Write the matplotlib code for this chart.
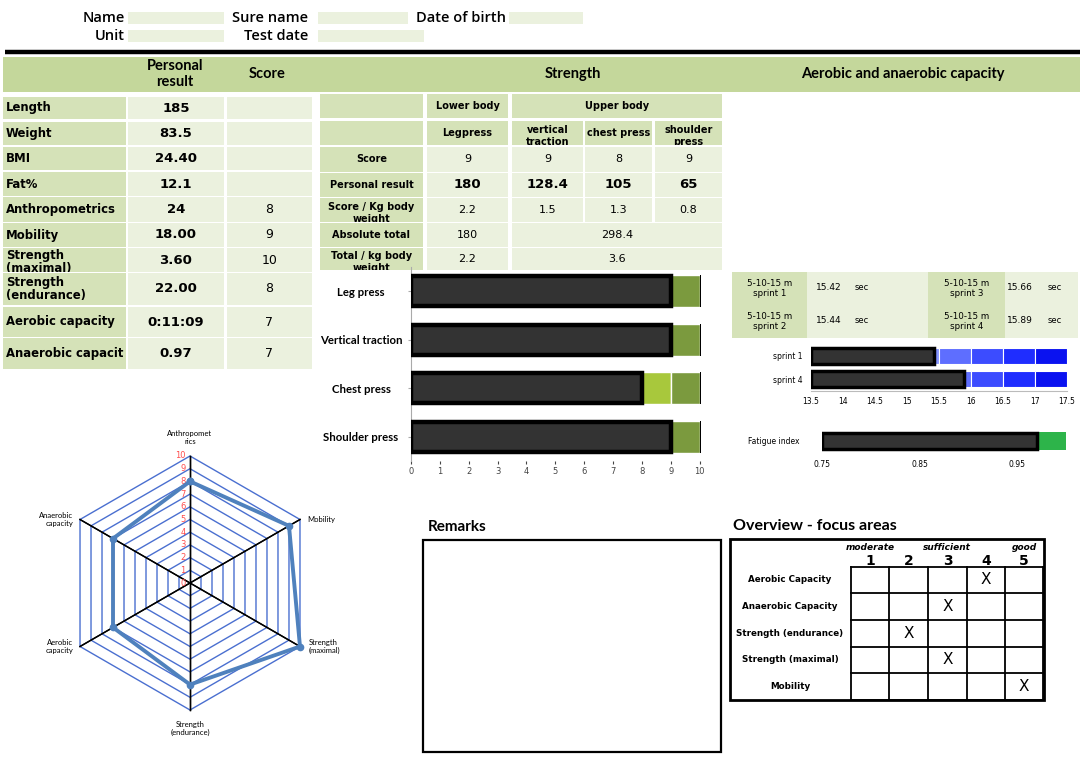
import numpy as np
import matplotlib.pyplot as plt
from matplotlib.patches import Rectangle, Polygon

W, H = 1084, 759

# ---- data ----
profile_labels = ["Length", "Weight", "BMI", "Fat%", "Anthropometrics", "Mobility",
                  "Strength\n(maximal)", "Strength\n(endurance)", "Aerobic capacity",
                  "Anaerobic capacit"]
profile_results = ["185", "83.5", "24.40", "12.1", "24", "18.00", "3.60", "22.00",
                   "0:11:09", "0.97"]
profile_scores = ["", "", "", "", "8", "9", "10", "8", "7", "7"]

strength_groups = ["Lower body", "Upper body"]
strength_exercises = ["Legpress", "vertical\ntraction", "chest press", "shoulder\npress"]
strength_row_labels = ["Score", "Personal result", "Score / Kg body\nweight",
                       "Absolute total", "Total / kg body\nweight"]
strength_scores = [9, 9, 8, 9]
strength_results = ["180", "128.4", "105", "65"]
score_per_kg = ["2.2", "1.5", "1.3", "0.8"]
absolute_total = ["180", "298.4"]
total_per_kg = ["2.2", "3.6"]
bar_labels = ["Leg press", "Vertical traction", "Chest press", "Shoulder press"]
max_score = 10

sprint_names = ["5-10-15 m\nsprint 1", "5-10-15 m\nsprint 2",
                "5-10-15 m\nsprint 3", "5-10-15 m\nsprint 4"]
sprint_times = [15.42, 15.44, 15.66, 15.89]
sprint_chart_labels = ["sprint 1", "sprint 4"]
sprint_chart_times = [15.42, 15.89]
sprint_steps = [15.5, 16.0, 16.5, 17.0, 17.5]
fatigue_index = 0.97
fatigue_max = 1.0

radar_labels = ["Anthropomet\nrics", "Mobility", "Strength\n(maximal)",
                "Strength\n(endurance)", "Aerobic\ncapacity", "Anaerobic\ncapacity"]
radar_scores = [8, 9, 10, 8, 7, 7]

focus_areas = ["Aerobic Capacity", "Anaerobic Capacity", "Strength (endurance)",
               "Strength (maximal)", "Mobility"]
focus_levels = [4, 3, 2, 3, 5]
level_words = ["moderate", "sufficient", "good"]

# ---- colours ----
BAND = "#c4d79b"
LABEL = "#d5e2b8"
VALUE = "#ebf1de"
PIX = "DejaVu Sans"
CAL = "Lato"

fig = plt.figure(figsize=(W / 100, H / 100), dpi=100)
ax = fig.add_axes([0, 0, 1, 1])
ax.set_xlim(0, W)
ax.set_ylim(H, 0)
ax.axis("off")


def px_axes(x0, y0, x1, y1):
    a = fig.add_axes([x0 / W, 1 - y1 / H, (x1 - x0) / W, (y1 - y0) / H])
    a.patch.set_alpha(0)
    return a


def cell(x0, y0, x1, y1, color, text="", size=8, weight="bold", family=PIX, clip=False,
         ls=0.95, dy=0):
    r = Rectangle((x0, y0), x1 - x0, y1 - y0, facecolor=color, edgecolor="none")
    ax.add_patch(r)
    if text:
        t = ax.text((x0 + x1) / 2, (y0 + y1) / 2 + dy, text, ha="center", va="center",
                    fontsize=size, fontweight=weight, family=family, linespacing=ls)
        if clip:
            t.set_clip_path(r)
            t.set_clip_on(True)
    return r


# ---- personal header ----
for txt, xr, y, bx0, bx1 in [("Name", 125, 18, 128, 224), ("Sure name", 308, 18, 318, 408),
                              ("Date of birth", 506, 18, 509, 583), ("Unit", 125, 36, 128, 224),
                              ("Test date", 308, 36, 318, 424)]:
    ax.text(xr, y, txt, ha="right", va="center", fontsize=10.5, family="Open Sans",
            fontweight="semibold")
    ax.add_patch(Rectangle((bx0, y - 6), bx1 - bx0, 12, facecolor=VALUE, edgecolor="none"))

ax.plot([5, 1080], [52, 52], color="black", lw=3.2, solid_capstyle="butt")
ax.add_patch(Rectangle((3, 57), 1077, 35, facecolor=BAND, edgecolor="none"))
ax.text(175, 74, "Personal\nresult", ha="center", va="center", fontsize=10.5,
        family=CAL, fontweight="bold", linespacing=1.1)
ax.text(267, 74, "Score", ha="center", va="center", fontsize=10.5, family=CAL, fontweight="bold")
ax.text(573, 74, "Strength", ha="center", va="center", fontsize=10.5, family=CAL, fontweight="bold")
ax.text(903, 74, "Aerobic and anaerobic capacity", ha="center", va="center", fontsize=10.5,
        family=CAL, fontweight="bold")

# ---- personal profile table ----
rows = [(97, 119), (122, 145), (147, 170), (172, 196), (197, 222), (223, 247),
        (248, 272), (273, 305), (307, 337), (338, 369)]
for (y0, y1), lab, res, sc in zip(rows, profile_labels, profile_results, profile_scores):
    r = cell(3, y0, 126, y1, LABEL)
    t = ax.text(6, (y0 + y1) / 2 + (2 if y1 - y0 < 26 and "\n" in lab else 0), lab,
                ha="left", va="center", fontsize=8.4, fontweight="bold", family=PIX,
                linespacing=1.0)
    t.set_clip_path(r)
    t.set_clip_on(True)
    cell(128, y0, 224, y1, VALUE, res, size=9.5)
    cell(227, y0, 312, y1, VALUE, sc, size=9, weight="normal")

# ---- strength table ----
cols = [(320, 423), (427, 508), (512, 583), (585, 652), (655, 722)]
srows = [(94, 118), (121, 145), (147, 172), (173, 197), (198, 222), (223, 247), (248, 270)]
cell(cols[0][0], srows[0][0], cols[0][1], srows[0][1], LABEL)
cell(cols[1][0], srows[0][0], cols[1][1], srows[0][1], LABEL, strength_groups[0], size=7)
cell(cols[2][0], srows[0][0], cols[4][1], srows[0][1], LABEL, strength_groups[1], size=7)
cell(cols[0][0], srows[1][0], cols[0][1], srows[1][1], LABEL)
for (c0, c1), ex in zip(cols[1:], strength_exercises):
    cell(c0, srows[1][0], c1, srows[1][1], LABEL, ex, size=7, clip=True, ls=1.15,
         dy=3 if "\n" in ex else 0)
for (y0, y1), lab in zip(srows[2:], strength_row_labels):
    cell(cols[0][0], y0, cols[0][1], y1, LABEL, lab, size=7, clip=True, ls=1.15,
         dy=3 if "\n" in lab else 0)
for (c0, c1), sc, res, spk in zip(cols[1:], strength_scores, strength_results, score_per_kg):
    cell(c0, srows[2][0], c1, srows[2][1], VALUE, str(sc), size=8, weight="normal")
    cell(c0, srows[3][0], c1, srows[3][1], VALUE, res, size=9.5)
    cell(c0, srows[4][0], c1, srows[4][1], VALUE, spk, size=8, weight="normal")
for (y0, y1), vals in zip(srows[5:], [absolute_total, total_per_kg]):
    cell(cols[1][0], y0, cols[1][1], y1, VALUE, vals[0], size=8, weight="normal")
    cell(cols[2][0], y0, cols[4][1], y1, VALUE, vals[1], size=8, weight="normal")

# ---- strength bars ----
bx = px_axes(411, 267, 704, 461)
greens = {7: "#c8dd52", 8: "#a8c83c", 9: "#7b9a3e"}
ypos = np.arange(len(bar_labels))
bx.barh(ypos, strength_scores, height=0.62, color="#333333", edgecolor="black", lw=3.2, zorder=3)
for i, sc in enumerate(strength_scores):
    for lv in range(sc, max_score):
        bx.barh(i, 1, left=lv, height=0.66, color=greens.get(lv, "#7b9a3e"),
                edgecolor="white", lw=1, zorder=2)
    bx.barh(i, 0.06, left=max_score, height=0.66, color="black", zorder=2)
bx.set_xlim(0, 10.15)
bx.set_ylim(3.5, -0.5)
bx.set_xticks(range(0, 11))
bx.set_yticks(ypos)
bx.set_yticklabels(bar_labels, family=CAL, fontsize=8.2, fontweight="bold", ha="center")
bx.tick_params(axis="x", labelsize=6, length=2, pad=2, colors="#444444")
bx.tick_params(axis="y", length=2, pad=34, colors="#aaaaaa", labelcolor="black")
for s in ["top", "right"]:
    bx.spines[s].set_visible(False)
bx.spines["left"].set_color("#aaaaaa")
bx.spines["bottom"].set_visible(False)

# ---- sprint table ----
for k, (name, tm) in enumerate(zip(sprint_names, sprint_times)):
    col = k // 2
    row = k % 2
    lx0, lx1, vx1 = [(732, 807, 928), (928, 1005, 1078)][col]
    y0, y1 = [(272, 305), (305, 338)][row]
    cell(lx0, y0, lx1, y1, LABEL, name, size=6.3, weight="normal", ls=1.2)
    cell(lx1, y0, vx1, y1, VALUE)
    ax.text(lx1 + (22 if col == 0 else 15), (y0 + y1) / 2 - 1, f"{tm:.2f}", ha="center",
            va="center", fontsize=6.5)
    ax.text(lx1 + (55 if col == 0 else 50), (y0 + y1) / 2 - 1, "sec", ha="center",
            va="center", fontsize=6)

# ---- sprint bars ----
sx = px_axes(811, 344, 1067, 391)
blues = ["#8494ff", "#5e6eff", "#3c4cff", "#1f2dff", "#0a12f0"]
sy = np.arange(len(sprint_chart_labels))
sx.barh(sy, [t - 13.5 for t in sprint_chart_times], left=13.5, height=0.66, color="#333333",
        edgecolor="black", lw=2.5, zorder=3)
for i, tm in enumerate(sprint_chart_times):
    left = tm
    steps = [s for s in sprint_steps if s > tm]
    for j, s in enumerate(steps):
        sx.barh(i, s - left, left=left, height=0.7, color=blues[j + len(sprint_steps) - len(steps)],
                edgecolor="white", lw=0.8, zorder=2)
        left = s
sx.set_xlim(13.5, 17.5)
sx.set_ylim(1.5, -0.5)
sx.set_xticks(np.arange(13.5, 17.6, 0.5))
sx.set_xticklabels([f"{v:g}" for v in np.arange(13.5, 17.6, 0.5)])
sx.set_yticks(sy)
sx.set_yticklabels(sprint_chart_labels, fontsize=5.5)
sx.tick_params(axis="x", labelsize=5.5, length=0, pad=4)
sx.tick_params(axis="y", length=0, pad=6)
for s in sx.spines.values():
    s.set_visible(False)
sx.spines["bottom"].set_visible(True)
sx.spines["bottom"].set_color("#bbbbbb")

# ---- fatigue index ----
fx = px_axes(822, 428, 1066, 454)
fx.barh(0, fatigue_index - 0.75, left=0.75, height=0.62, color="#333333", edgecolor="black",
        lw=2.5, zorder=3)
fx.barh(0, fatigue_max - fatigue_index, left=fatigue_index, height=0.66, color="#2db44a", zorder=2)
fx.set_xlim(0.75, fatigue_max)
fx.set_ylim(-0.5, 0.5)
fx.set_xticks([0.75, 0.85, 0.95])
fx.set_xticklabels(["0.75", "0.85", "0.95"])
fx.set_yticks([])
fx.tick_params(axis="x", labelsize=5.5, length=0, pad=4)
for s in fx.spines.values():
    s.set_visible(False)
ax.text(748, 441, "Fatigue index", ha="left", va="center", fontsize=5.5)

# ---- radar ----
rx = px_axes(30, 423, 350, 743)
lim = 160 / 12.7
rx.set_xlim(-lim, lim)
rx.set_ylim(-lim, lim)
rx.set_aspect("equal")
rx.axis("off")
ang = np.deg2rad(90 - 60 * np.arange(len(radar_labels)))
for r in range(1, max_score + 1):
    rx.add_patch(Polygon(np.c_[r * np.cos(ang), r * np.sin(ang)], closed=True, fill=False,
                         edgecolor="#4a6fd0", lw=1))
for a in ang:
    rx.plot([-max_score * np.cos(a), max_score * np.cos(a)],
            [-max_score * np.sin(a), max_score * np.sin(a)], color="black", lw=1)
vals = np.array(radar_scores + radar_scores[:1], dtype=float)
aa = np.r_[ang, ang[:1]]
rx.plot(vals * np.cos(aa), vals * np.sin(aa), color="#4f81bd", lw=2.8, marker="o", ms=4.5,
        zorder=5)
for r in range(0, max_score + 1):
    rx.text(-0.35, r, str(r), ha="right", va="center", fontsize=6, color="#ff4d4d")
offsets = [(0, 8, "center", "bottom"), (5, 0, "left", "center"), (6, 0, "left", "center"),
           (0, -8, "center", "top"), (-5, 0, "right", "center"), (-5, 0, "right", "center")]
for a, lab, (dx, dy, ha, va) in zip(ang, radar_labels, offsets):
    rx.annotate(lab, (max_score * np.cos(a), max_score * np.sin(a)), xytext=(dx, dy),
                textcoords="offset points", ha=ha, va=va, fontsize=5.5, family=CAL,
                linespacing=1.1)

# ---- remarks ----
ax.text(428, 527, "Remarks", ha="left", va="center", fontsize=11, family=CAL, fontweight="bold")
ax.add_patch(Rectangle((423, 540), 298, 212, fill=False, edgecolor="black", lw=1.6))

# ---- overview ----
ax.text(733, 526, "Overview - focus areas", ha="left", va="center", fontsize=11.5, family=CAL,
        fontweight="bold")
ax.add_patch(Rectangle((730, 539), 314, 161, fill=False, edgecolor="black", lw=2))
gx = [851, 889, 928, 967, 1005, 1043]
gy = [567, 593, 620, 647, 673, 700]
for x in gx:
    ax.plot([x, x], [gy[0], gy[-1]], color="black", lw=1.3)
for y in gy:
    ax.plot([gx[0], gx[-1]], [y, y], color="black", lw=1.3)
centers = [(gx[i] + gx[i + 1]) / 2 for i in range(5)]
for i, c in enumerate(centers):
    ax.text(c, 561, str(i + 1), ha="center", va="center", fontsize=10, fontweight="bold")
for word, x in zip(level_words, [870, 947, 1024]):
    ax.text(x, 548, word, ha="center", va="center", fontsize=6.5, fontweight="bold",
            style="italic")
for j, (area, lv) in enumerate(zip(focus_areas, focus_levels)):
    yc = (gy[j] + gy[j + 1]) / 2
    ax.text(790, yc, area, ha="center", va="center", fontsize=6.3, fontweight="bold")
    ax.text(centers[lv - 1], yc, "X", ha="center", va="center", fontsize=11)

fig.savefig("out.png", dpi=100)
